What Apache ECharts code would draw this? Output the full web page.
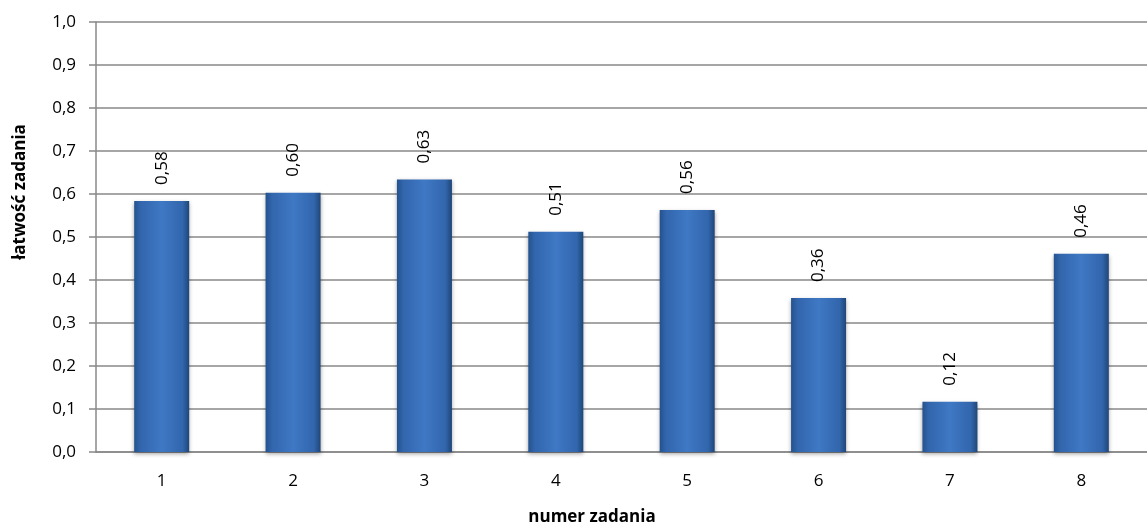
<!DOCTYPE html>
<html>
<head>
<meta charset="utf-8">
<script src="https://cdn.jsdelivr.net/npm/echarts@6/dist/echarts.min.js"></script>
<style>
html,body{margin:0;padding:0;background:#fff;}
#chart{width:1147px;height:525px;}
</style>
</head>
<body>
<div id="chart"></div>
<script>
const categories = ['1','2','3','4','5','6','7','8'];
const values = [0.584, 0.603, 0.634, 0.512, 0.563, 0.358, 0.117, 0.461];
const yTitle = 'łatwość zadania';
const xTitle = 'numer zadania';

const FONT = '"Open Sans", "Liberation Sans", Arial, sans-serif';
const chart = echarts.init(document.getElementById('chart'), null, {renderer:'canvas'});
const barColor = new echarts.graphic.LinearGradient(0,0,1,0,[
  {offset:0, color:'#24528f'},
  {offset:0.12, color:'#3266ad'},
  {offset:0.5, color:'#3f78c4'},
  {offset:0.88, color:'#3266ad'},
  {offset:1, color:'#1f4678'}
]);
chart.setOption({
  animation:false,
  grid:{left:96, right:-12, top:22, bottom:73, containLabel:false},
  xAxis:{
    type:'category', data:categories,
    axisLine:{lineStyle:{color:'#888', width:1.5}},
    axisTick:{show:false},
    axisLabel:{color:'#000', fontFamily:FONT, fontSize:17, margin:21}
  },
  yAxis:{
    type:'value', min:0, max:1, interval:0.1,
    axisLine:{show:true, lineStyle:{color:'#888', width:1.5}},
    axisTick:{show:true, length:7, lineStyle:{color:'#888', width:1.5}},
    splitLine:{lineStyle:{color:'#888', width:1.5}},
    axisLabel:{color:'#000', fontFamily:FONT, fontSize:17, margin:20,
      formatter:v=>v.toFixed(1).replace('.',',')}
  },
  series:[{
    type:'bar', data:values, barWidth:55,
    itemStyle:{color:barColor, shadowBlur:4, shadowOffsetY:2, shadowColor:'rgba(0,0,0,0.35)'},
    label:{show:true, position:'top', rotate:90, align:'left', verticalAlign:'middle',
      distance:16, color:'#000', fontFamily:FONT, fontSize:17,
      formatter:p=>p.value.toFixed(2).replace('.',',')}
  }],
  graphic:[
    {type:'text', x:592, y:517, style:{text:xTitle, fontFamily:FONT, fontSize:17, fontWeight:'bold', fill:'#000', textAlign:'center', textVerticalAlign:'middle'}},
    {type:'text', x:20, y:192, rotation:Math.PI/2, style:{text:yTitle, fontFamily:FONT, fontSize:17, fontWeight:'bold', fill:'#000', textAlign:'center', textVerticalAlign:'middle'}}
  ]
});
</script>
</body>
</html>
